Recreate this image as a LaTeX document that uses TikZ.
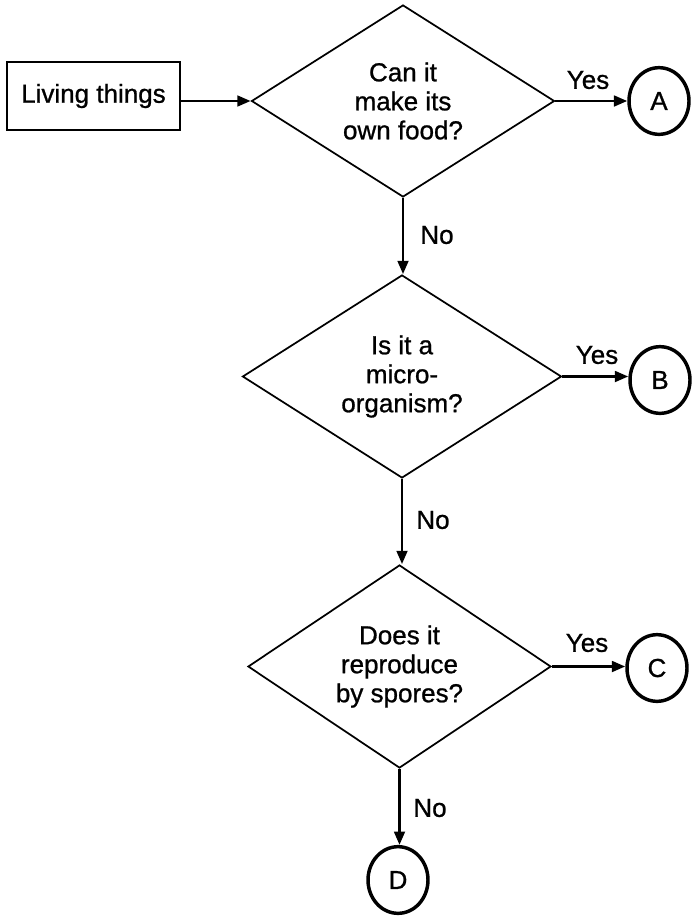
\documentclass[tikz,border=0pt]{standalone}
\usepackage{fontspec}
\setmainfont{Liberation Sans}[BoldFont={Liberation Sans},BoldFeatures={FakeBold=0.9}]
\usetikzlibrary{shapes.geometric,arrows.meta}
\begin{document}
\begin{tikzpicture}[x=0.75pt,y=-0.75pt,
  every node/.style={font=\fontsize{19.5}{21.75}\selectfont\bfseries},
  startbox/.style={draw,line width=1.4pt,minimum width=129.75pt,minimum height=51pt,inner sep=0pt},
  decision/.style={draw,shape=diamond,aspect=1.6,inner sep=0pt,line width=1.3pt,align=center},
  endcircle/.style={draw,shape=ellipse,line width=2.6pt,minimum width=45pt,minimum height=50pt,inner sep=0pt},
  flow/.style={line width=2pt,-{Triangle[length=10pt,width=8pt]}},
  lbl/.style={inner sep=0pt}
]
\useasboundingbox (0,0) rectangle (692,921);
\node[startbox] (start) at (93.5,96) {Living things};
\node[decision,minimum width=227.25pt,minimum height=144pt] (d1) at (403,101) {Can it\\make its\\own food?};
\node[decision,minimum width=239.25pt,minimum height=152.25pt] (d2) at (402,376.5) {Is it a\\micro-\\organism?};
\node[decision,minimum width=227.25pt,minimum height=152.25pt] (d3) at (399.5,666.5) {Does it\\reproduce\\by spores?};
\node[endcircle] (A) at (659,101) {A};
\node[endcircle] (B) at (660,380) {B};
\node[endcircle] (C) at (657,668) {C};
\node[endcircle] (D) at (398,880) {D};
\draw[flow] (start.east |- d1.west) -- (d1.west);
\draw[flow] (d1.east) -- (A.west |- d1.east);
\draw[flow] (d1.south) -- (d1.south |- d2.north);
\draw[flow] (d2.east) -- (B.west |- d2.east);
\draw[flow] (d2.south) -- (d2.south |- d3.north);
\draw[flow] (d3.east) -- (C.west |- d3.east);
\draw[flow] (d3.south) -- (d3.south |- D.north);
\node[lbl] (y1) at (588,80) {Yes};
\node[lbl] (n1) at (437,235) {No};
\node[lbl] (y2) at (597,355) {Yes};
\node[lbl] (n2) at (433,520) {No};
\node[lbl] (y3) at (587,643) {Yes};
\node[lbl] (n3) at (430,808) {No};
\end{tikzpicture}
\end{document}
